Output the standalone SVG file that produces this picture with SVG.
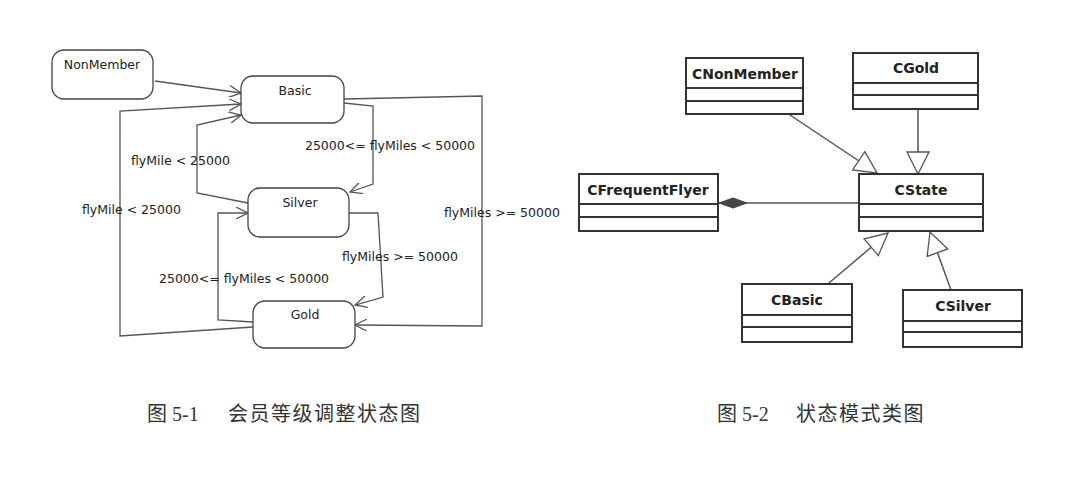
<svg xmlns="http://www.w3.org/2000/svg" width="1080" height="482" viewBox="0 0 1080 482">
<style>
.st{fill:#fff;stroke:#444;stroke-width:1.3}
.t{font-family:"DejaVu Sans",sans-serif;font-size:12.5px;fill:#222}
.c{font-family:"DejaVu Sans",sans-serif;font-size:14px;font-weight:bold;fill:#222;text-anchor:middle}
.cl{fill:#fff;stroke:#333;stroke-width:2}
.dv{stroke:#333;stroke-width:2}
.e{fill:none;stroke:#555;stroke-width:1.3}
.g{fill:none;stroke:#555;stroke-width:1.5}
.cap{font-family:"Liberation Serif","Noto Sans CJK SC",serif;font-size:20px;fill:#333}
.cj{font-family:"Noto Sans CJK SC",serif;font-size:20px;letter-spacing:1.5px;fill:#333}
</style>
<defs>
<marker id="a" markerWidth="14" markerHeight="12" refX="12" refY="6" orient="auto" markerUnits="userSpaceOnUse"><path d="M0,0 L12,6 L0,12" fill="none" stroke="#555" stroke-width="1.3"/></marker>
<marker id="tri" markerWidth="26" markerHeight="28" refX="23" refY="14" orient="auto" markerUnits="userSpaceOnUse"><path d="M1,3 L23,14 L1,25 Z" fill="#fff" stroke="#555" stroke-width="1.3"/></marker>
<marker id="dia" markerWidth="32" markerHeight="12" refX="1" refY="6" orient="auto" markerUnits="userSpaceOnUse"><path d="M1,6 L15,1 L29,6 L15,11 Z" fill="#444" stroke="#444"/></marker>
</defs>
<g id="connectors">
<path class="e" d="M155,81 L241,93" marker-end="url(#a)"/>
<path class="e" d="M253,327 L120,336 L120,111 L241,104" marker-end="url(#a)"/>
<path class="e" d="M248,203 L197,193 L197,125 L241,115" marker-end="url(#a)"/>
<path class="e" d="M344,103 L373,106 L373,184 L350,192" marker-end="url(#a)"/>
<path class="e" d="M344,99 L482,96 L482,326 L355,325" marker-end="url(#a)"/>
<path class="e" d="M349,213 L378,213 L383,297 L355,305" marker-end="url(#a)"/>
<path class="e" d="M253,322 L218,320 L218,213 L248,213" marker-end="url(#a)"/>
<path class="g" d="M790,115 L877,173" marker-end="url(#tri)"/>
<path class="g" d="M918,109 L918,174" marker-end="url(#tri)"/>
<path class="g" d="M829,283 L888,233" marker-end="url(#tri)"/>
<path class="g" d="M951,290 L930,232" marker-end="url(#tri)"/>
<path class="g" d="M719,203 L859,203" marker-start="url(#dia)"/>
</g>
<g id="labels">
<text class="t" x="390" y="150" text-anchor="middle">25000&lt;= flyMiles &lt; 50000</text>
<text class="t" x="131" y="165">flyMile &lt; 25000</text>
<text class="t" x="82" y="214">flyMile &lt; 25000</text>
<text class="t" x="444" y="217">flyMiles &gt;= 50000</text>
<text class="t" x="342" y="261">flyMiles &gt;= 50000</text>
<text class="t" x="159" y="283">25000&lt;= flyMiles &lt; 50000</text>
</g>
<g id="NonMember"><rect class="st" x="52" y="50" width="101" height="49" rx="12"/><text class="t" x="102" y="69" text-anchor="middle">NonMember</text></g>
<g id="Basic"><rect class="st" x="241" y="76" width="103" height="47" rx="12"/><text class="t" x="295" y="95" text-anchor="middle">Basic</text></g>
<g id="Silver"><rect class="st" x="248" y="188" width="101" height="49" rx="12"/><text class="t" x="300" y="207" text-anchor="middle">Silver</text></g>
<g id="Gold"><rect class="st" x="253" y="301" width="102" height="47" rx="12"/><text class="t" x="305" y="319" text-anchor="middle">Gold</text></g>
<g id="CNonMember"><rect class="cl" x="686" y="58" width="117" height="56"/><line class="dv" x1="686" y1="88" x2="803" y2="88"/><line class="dv" x1="686" y1="101" x2="803" y2="101"/><text class="c" x="745" y="79">CNonMember</text></g>
<g id="CGold"><rect class="cl" x="853" y="53" width="125" height="56"/><line class="dv" x1="853" y1="83" x2="978" y2="83" stroke-width="1"/><line class="dv" x1="853" y1="95" x2="978" y2="95" stroke-width="1"/><text class="c" x="916" y="73">CGold</text></g>
<g id="CFrequentFlyer"><rect class="cl" x="579" y="174" width="139" height="57"/><line class="dv" x1="579" y1="204" x2="718" y2="204"/><line class="dv" x1="579" y1="217" x2="718" y2="217"/><text class="c" x="648" y="195">CFrequentFlyer</text></g>
<g id="CState"><rect class="cl" x="859" y="174" width="124" height="57"/><line class="dv" x1="859" y1="204" x2="983" y2="204"/><line class="dv" x1="859" y1="217" x2="983" y2="217"/><text class="c" x="921" y="195">CState</text></g>
<g id="CBasic"><rect class="cl" x="742" y="284" width="110" height="58"/><line class="dv" x1="742" y1="315" x2="852" y2="315"/><line class="dv" x1="742" y1="327" x2="852" y2="327"/><text class="c" x="797" y="305">CBasic</text></g>
<g id="CSilver"><rect class="cl" x="903" y="290" width="119" height="57"/><line class="dv" x1="903" y1="321" x2="1022" y2="321"/><line class="dv" x1="903" y1="332" x2="1022" y2="332"/><text class="c" x="963" y="311">CSilver</text></g>
<text class="cap" x="147" y="421">图 5-1</text><text class="cj" x="228" y="421">会员等级调整状态图</text>
<text class="cap" x="717" y="421">图 5-2</text><text class="cj" x="796" y="421">状态模式类图</text>
</svg>
